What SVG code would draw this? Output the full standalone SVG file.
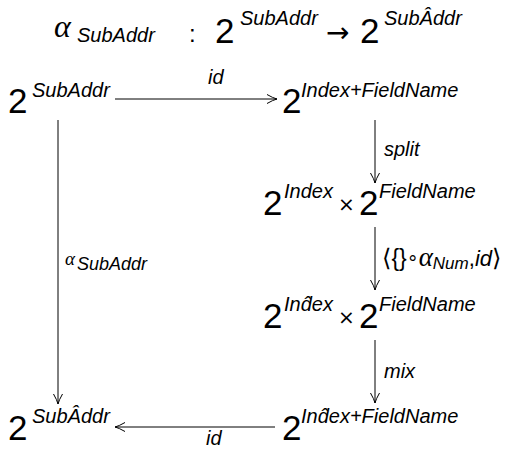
<svg xmlns="http://www.w3.org/2000/svg" width="510" height="450" viewBox="0 0 510 450">
<defs>
<style>
.m{font-family:"Liberation Sans","DejaVu Sans",sans-serif;font-size:35px;fill:#000}
.s{font-family:"Liberation Sans","DejaVu Sans",sans-serif;font-style:italic;font-size:20px;fill:#000}
.l{font-family:"Liberation Sans","DejaVu Sans",sans-serif;font-style:italic;font-size:20px;fill:#000}
.g{font-family:"Liberation Serif","DejaVu Serif",serif;font-style:italic;fill:#000}
.d{font-family:"DejaVu Sans",sans-serif;fill:#000}
.e{stroke:#000;stroke-width:1;fill:none}
</style>
<marker id="ah" viewBox="-11 -6 12 12" refX="0" refY="0" markerWidth="12" markerHeight="12" markerUnits="userSpaceOnUse" orient="auto">
<path d="M-10,-4.5 Q-4,-1 0,0 Q-4,1 -10,4.5" fill="none" stroke="#000" stroke-width="1"/>
</marker>
</defs>
<g id="title">
<text x="54" y="37" class="g" style="font-size:32px">α</text>
<text x="77" y="42" class="s">SubAddr</text>
<text x="189" y="42" class="m" style="font-size:24px">:</text>
<text x="215" y="43" class="m">2</text>
<text x="240" y="25" class="s">SubAddr</text>
<text x="326" y="42" class="d" style="font-size:28px">→</text>
<text x="360" y="43" class="m">2</text>
<text x="384" y="25" class="s">SubÂddr</text>
</g>
<g id="n1">
<text x="8" y="113" class="m">2</text>
<text x="32" y="97" class="s">SubAddr</text>
</g>
<g id="n2">
<text x="282" y="113" class="m">2</text>
<text x="301" y="97" class="s">Index+FieldName</text>
</g>
<g id="n3">
<text x="263" y="215" class="m">2</text>
<text x="284" y="198" class="s">Index</text>
<text x="338" y="211" class="d" style="font-size:20px">×</text>
<text x="359" y="215" class="m">2</text>
<text x="379" y="198" class="s">FieldName</text>
</g>
<g id="n4">
<text x="263" y="328" class="m">2</text>
<text x="284" y="311" class="s">Ind̂ex</text>
<text x="338" y="324" class="d" style="font-size:20px">×</text>
<text x="359" y="328" class="m">2</text>
<text x="379" y="311" class="s">FieldName</text>
</g>
<g id="n5">
<text x="8" y="440" class="m">2</text>
<text x="32" y="423" class="s">SubÂddr</text>
</g>
<g id="n6">
<text x="282" y="440" class="m">2</text>
<text x="301" y="423" class="s">Ind̂ex+FieldName</text>
</g>
<g id="connectors">
<line x1="115" y1="99" x2="277" y2="99" class="e" marker-end="url(#ah)"/>
<text x="208" y="84" class="l">id</text>
<line x1="375" y1="120" x2="375" y2="183" class="e" marker-end="url(#ah)"/>
<text x="384" y="156" class="l">split</text>
<line x1="375" y1="227" x2="375" y2="290" class="e" marker-end="url(#ah)"/>
<text x="382" y="266" class="d" style="font-size:24px">⟨<tspan class="m" style="font-size:23px">{}</tspan><tspan style="font-size:19px" dy="-2">∘</tspan><tspan class="g" style="font-size:27px" dy="2">α</tspan><tspan class="l" style="font-size:17px" dy="3">Num</tspan><tspan class="m" style="font-size:22px" dy="-3">,</tspan><tspan class="l" style="font-size:22px">id</tspan>⟩</text>
<line x1="375" y1="340" x2="375" y2="403" class="e" marker-end="url(#ah)"/>
<text x="384" y="378" class="l">mix</text>
<line x1="58" y1="120" x2="58" y2="404" class="e" marker-end="url(#ah)"/>
<text x="65" y="265" class="g" style="font-size:19px">α</text>
<text x="77" y="270" class="s" style="font-size:18px">SubAddr</text>
<line x1="275" y1="427" x2="115" y2="427" class="e" marker-end="url(#ah)"/>
<text x="206" y="445" class="l">id</text>
</g>
</svg>
